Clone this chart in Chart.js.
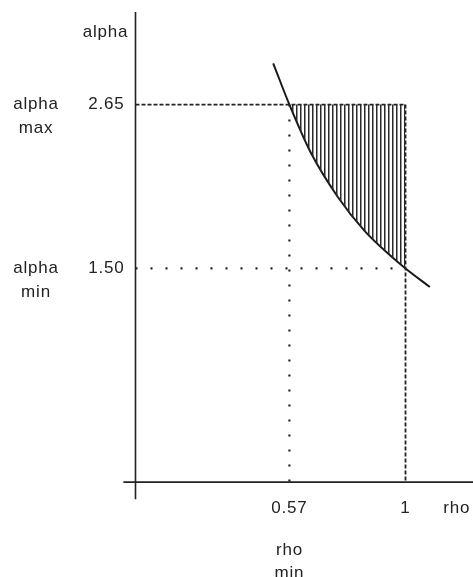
<!DOCTYPE html>
<html>
<head>
<meta charset="utf-8">
<style>
  html, body { margin: 0; padding: 0; background: #fff; }
  canvas { display: block; }
</style>
<script src="https://cdn.jsdelivr.net/npm/chart.js@4/dist/chart.umd.min.js"></script>
</head>
<body>
<canvas id="chart" width="473" height="577"></canvas>
<script>
// curve alpha(rho)
var curveRho   = [0.51, 0.57, 0.65, 0.75, 0.85, 0.95, 1.00, 1.09];
var curveAlpha = [2.94, 2.65, 2.31, 2.00, 1.76, 1.58, 1.50, 1.37];

// hatched part of the curve (between rho min and 1)
var shadeRho   = [0.57, 0.65, 0.75, 0.85, 0.95, 1.00];
var shadeAlpha = [2.65, 2.31, 2.00, 1.76, 1.58, 1.50];

var rhoMin = 0.57, rhoMax = 1;
var alphaMin = 1.50, alphaMax = 2.65;

var yTicks = [alphaMax, alphaMin];
var yTickLabels = ["2.65", "1.50"];
var ySideLabels = [["alpha", "max"], ["alpha", "min"]];
var xTicks = [rhoMin, rhoMax];
var xTickLabels = ["0.57", "1"];
var xSubLabels = [["rho", "min"], null];

function pts(xs, ys) {
    var out = [];
    for (var i = 0; i < xs.length; i++) out.push({x: xs[i], y: ys[i]});
    return out;
}

// vertical hatch pattern
var pc = document.createElement("canvas");
pc.width = 4; pc.height = 4;
var pctx = pc.getContext("2d");
pctx.fillStyle = "#2a2a2a";
pctx.fillRect(0, 0, 1.5, 4);
var hatch = document.getElementById("chart").getContext("2d").createPattern(pc, "repeat");

var ink = "#222";
var font = "17px 'Liberation Sans', Arial, sans-serif";

var labelsPlugin = {
    id: "labels",
    afterDraw: function(chart) {
        var ctx = chart.ctx;
        var xs = chart.scales.x, ys = chart.scales.y;
        var x0 = xs.getPixelForValue(0), y0 = ys.getPixelForValue(0);
        ctx.save();
        ctx.fillStyle = "#222";
        ctx.font = font;
        ctx.letterSpacing = "0.8px";
        ctx.textBaseline = "middle";

        ctx.textAlign = "center";
        ctx.fillText("alpha", x0 - 30, 32);

        for (var i = 0; i < yTicks.length; i++) {
            var py = ys.getPixelForValue(yTicks[i]);
            ctx.textAlign = "right";
            ctx.fillText(yTickLabels[i], x0 - 11, py);
            ctx.textAlign = "center";
            ctx.fillText(ySideLabels[i][0], 36, py);
            ctx.fillText(ySideLabels[i][1], 36, py + 24);
        }
        for (var j = 0; j < xTicks.length; j++) {
            var px = xs.getPixelForValue(xTicks[j]);
            ctx.textAlign = "center";
            ctx.fillText(xTickLabels[j], px, y0 + 26);
            if (xSubLabels[j]) {
                ctx.fillText(xSubLabels[j][0], px, y0 + 68);
                ctx.fillText(xSubLabels[j][1], px, y0 + 91);
            }
        }
        ctx.textAlign = "center";
        ctx.fillText("rho", xs.getPixelForValue(1.19), y0 + 26);
        ctx.restore();
    }
};

new Chart(document.getElementById("chart"), {
    type: "scatter",
    data: {
        datasets: [
            {   // hatched region
                data: pts(shadeRho, shadeAlpha),
                showLine: true,
                borderWidth: 0,
                borderColor: "rgba(0,0,0,0)",
                backgroundColor: hatch,
                fill: {value: alphaMax},
                cubicInterpolationMode: "monotone",
                pointRadius: 0
            },
            {   // alpha max
                data: [{x: 0, y: alphaMax}, {x: rhoMax, y: alphaMax}],
                showLine: true, borderColor: ink, borderWidth: 1.8,
                borderDash: [4, 2], pointRadius: 0
            },
            {   // rho = 1
                data: [{x: rhoMax, y: alphaMax}, {x: rhoMax, y: 0}],
                showLine: true, borderColor: ink, borderWidth: 1.8,
                borderDash: [4, 2], pointRadius: 0
            },
            {   // alpha min
                data: [{x: 0, y: alphaMin}, {x: rhoMax, y: alphaMin}],
                showLine: true, borderColor: ink, borderWidth: 2.2,
                borderDash: [2, 13], pointRadius: 0
            },
            {   // rho min
                data: [{x: rhoMin, y: alphaMax}, {x: rhoMin, y: 0}],
                showLine: true, borderColor: ink, borderWidth: 2.2,
                borderDash: [2, 13], pointRadius: 0
            },
            {   // curve
                data: pts(curveRho, curveAlpha),
                showLine: true, borderColor: "#1a1a1a", borderWidth: 2,
                cubicInterpolationMode: "monotone", pointRadius: 0
            },
            {   // x axis
                data: [{x: -0.045, y: 0}, {x: 1.25, y: 0}],
                showLine: true, borderColor: ink, borderWidth: 1.6, pointRadius: 0
            },
            {   // y axis
                data: [{x: 0, y: -0.12}, {x: 0, y: 3.3}],
                showLine: true, borderColor: ink, borderWidth: 1.6, pointRadius: 0
            }
        ]
    },
    options: {
        responsive: false,
        animation: false,
        clip: false,
        layout: {padding: {left: 122, right: 0, top: 12, bottom: 73.5}},
        plugins: {legend: {display: false}, tooltip: {enabled: false}},
        scales: {
            x: {type: "linear", min: -0.05, max: 1.25, display: false},
            y: {type: "linear", min: -0.15, max: 3.3, display: false}
        }
    },
    plugins: [labelsPlugin]
});
</script>
</body>
</html>
